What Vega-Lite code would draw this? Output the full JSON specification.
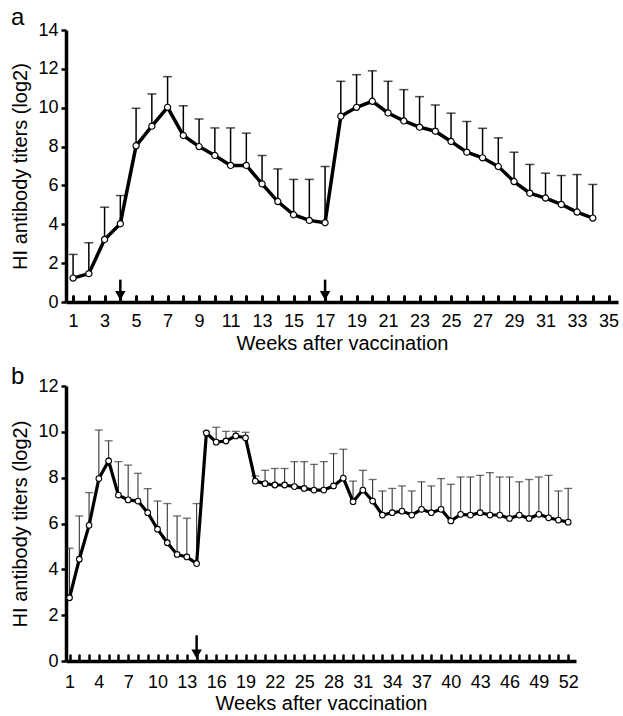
{
  "$schema": "https://vega.github.io/schema/vega-lite/v6.json",
  "padding": {"left": 10, "top": 6, "right": 0, "bottom": 0},
  "spacing": 12,
  "config": {
    "font": "Liberation Sans",
    "view": {"stroke": null},
    "axis": {
      "grid": false,
      "ticks": true,
      "domainColor": "black",
      "domainWidth": 3.5,
      "tickColor": "black",
      "tickWidth": 2.5,
      "tickOpacity": 1,
      "labelColor": "black",
      "titleColor": "black",
      "labelFontSize": 18,
      "titleFontSize": 20,
      "titleFontWeight": "normal",
      "labelFont": "Liberation Sans",
      "titleFont": "Liberation Sans",
      "labelOverlap": false
    },
    "title": {"font": "Liberation Sans", "fontWeight": "normal", "fontSize": 24, "color": "black", "anchor": "start", "frame": "bounds"}
  },
  "datasets": {
    "a": [
      {"week": 1, "mean": 1.23, "upper": 2.45},
      {"week": 2, "mean": 1.46, "upper": 3.05},
      {"week": 3, "mean": 3.22, "upper": 4.88},
      {"week": 4, "mean": 4.03, "upper": 5.48},
      {"week": 5, "mean": 8.04, "upper": 9.97},
      {"week": 6, "mean": 9.05, "upper": 10.71},
      {"week": 7, "mean": 10.02, "upper": 11.6},
      {"week": 8, "mean": 8.57, "upper": 10.1},
      {"week": 9, "mean": 8.0, "upper": 9.42},
      {"week": 10, "mean": 7.54, "upper": 8.96},
      {"week": 11, "mean": 7.03, "upper": 8.96},
      {"week": 12, "mean": 7.03, "upper": 8.69},
      {"week": 13, "mean": 6.08, "upper": 7.54},
      {"week": 14, "mean": 5.17, "upper": 6.85},
      {"week": 15, "mean": 4.49, "upper": 6.31},
      {"week": 16, "mean": 4.2, "upper": 6.31},
      {"week": 17, "mean": 4.08, "upper": 6.97},
      {"week": 18, "mean": 9.56, "upper": 11.36},
      {"week": 19, "mean": 10.02, "upper": 11.7},
      {"week": 20, "mean": 10.33, "upper": 11.9},
      {"week": 21, "mean": 9.73, "upper": 11.36},
      {"week": 22, "mean": 9.32, "upper": 10.93},
      {"week": 23, "mean": 9.0, "upper": 10.57},
      {"week": 24, "mean": 8.79, "upper": 10.14},
      {"week": 25, "mean": 8.26, "upper": 9.72},
      {"week": 26, "mean": 7.71, "upper": 9.29},
      {"week": 27, "mean": 7.42, "upper": 8.94},
      {"week": 28, "mean": 6.97, "upper": 8.45},
      {"week": 29, "mean": 6.2, "upper": 7.71},
      {"week": 30, "mean": 5.6, "upper": 7.08},
      {"week": 31, "mean": 5.35, "upper": 6.63},
      {"week": 32, "mean": 5.02, "upper": 6.51},
      {"week": 33, "mean": 4.63, "upper": 6.56},
      {"week": 34, "mean": 4.32, "upper": 6.05}
    ],
    "b": [
      {"week": 1, "mean": 2.76, "upper": 4.92},
      {"week": 2, "mean": 4.44, "upper": 6.33},
      {"week": 3, "mean": 5.92, "upper": 7.35},
      {"week": 4, "mean": 7.96, "upper": 10.08},
      {"week": 5, "mean": 8.73, "upper": 9.61},
      {"week": 6, "mean": 7.24, "upper": 8.7},
      {"week": 7, "mean": 7.03, "upper": 8.55},
      {"week": 8, "mean": 6.98, "upper": 8.19},
      {"week": 9, "mean": 6.47, "upper": 7.52},
      {"week": 10, "mean": 5.75, "upper": 6.98},
      {"week": 11, "mean": 5.16, "upper": 6.87},
      {"week": 12, "mean": 4.65, "upper": 6.33},
      {"week": 13, "mean": 4.54, "upper": 6.23},
      {"week": 14, "mean": 4.25, "upper": 6.87},
      {"week": 15, "mean": 9.95, "upper": 10.0},
      {"week": 16, "mean": 9.55, "upper": 10.2},
      {"week": 17, "mean": 9.6, "upper": 10.02},
      {"week": 18, "mean": 9.82, "upper": 10.02},
      {"week": 19, "mean": 9.74, "upper": 9.98},
      {"week": 20, "mean": 7.85, "upper": 8.07},
      {"week": 21, "mean": 7.74, "upper": 8.32},
      {"week": 22, "mean": 7.68, "upper": 8.4},
      {"week": 23, "mean": 7.68, "upper": 8.4},
      {"week": 24, "mean": 7.61, "upper": 8.7},
      {"week": 25, "mean": 7.53, "upper": 8.7},
      {"week": 26, "mean": 7.46, "upper": 8.58},
      {"week": 27, "mean": 7.46, "upper": 8.7},
      {"week": 28, "mean": 7.64, "upper": 9.05},
      {"week": 29, "mean": 7.98, "upper": 9.24},
      {"week": 30, "mean": 6.95, "upper": 7.85},
      {"week": 31, "mean": 7.46, "upper": 8.32},
      {"week": 32, "mean": 6.98, "upper": 7.92},
      {"week": 33, "mean": 6.37, "upper": 7.42},
      {"week": 34, "mean": 6.47, "upper": 7.53},
      {"week": 35, "mean": 6.54, "upper": 7.64},
      {"week": 36, "mean": 6.37, "upper": 7.42},
      {"week": 37, "mean": 6.62, "upper": 7.82},
      {"week": 38, "mean": 6.47, "upper": 7.64},
      {"week": 39, "mean": 6.62, "upper": 7.96},
      {"week": 40, "mean": 6.11, "upper": 7.71},
      {"week": 41, "mean": 6.4, "upper": 8.03},
      {"week": 42, "mean": 6.37, "upper": 8.03},
      {"week": 43, "mean": 6.47, "upper": 8.1},
      {"week": 44, "mean": 6.37, "upper": 8.22},
      {"week": 45, "mean": 6.37, "upper": 8.03},
      {"week": 46, "mean": 6.22, "upper": 8.03},
      {"week": 47, "mean": 6.37, "upper": 7.82},
      {"week": 48, "mean": 6.22, "upper": 7.92},
      {"week": 49, "mean": 6.4, "upper": 8.03},
      {"week": 50, "mean": 6.25, "upper": 8.1},
      {"week": 51, "mean": 6.15, "upper": 7.42},
      {"week": 52, "mean": 6.06, "upper": 7.53}
    ],
    "arrowsA": [
      {"week": 4, "top": 1.15, "bottom": 0.5, "head": 0.33},
      {"week": 17, "top": 1.15, "bottom": 0.5, "head": 0.33}
    ],
    "arrowsB": [
      {"week": 14, "top": 1.12, "bottom": 0.45, "head": 0.3}
    ]
  },
  "vconcat": [
    {
      "title": {"text": "a", "offset": -9},
      "width": 552,
      "height": 272,
      "layer": [
        {
          "data": {"name": "a"},
          "mark": {"type": "rule", "color": "black", "strokeWidth": 1.5},
          "encoding": {
            "x": {"field": "week", "type": "quantitative", "scale": {"domain": [0.55, 35.6], "nice": false, "zero": false},
              "axis": {"title": "Weeks after vaccination", "values": [1,2,3,4,5,6,7,8,9,10,11,12,13,14,15,16,17,18,19,20,21,22,23,24,25,26,27,28,29,30,31,32,33,34,35],
                "tickCount": 200, "format": "d", "labelExpr": "datum.value % 2 == 1 ? datum.label : ''", "tickSize": -6, "tickWidth": 3, "tickCap": "round", "labelPadding": 16, "titlePadding": 3, "labelFlush": false}},
            "y": {"field": "mean", "type": "quantitative", "scale": {"domain": [0, 14], "nice": false},
              "axis": {"title": "HI antibody titers (log2)", "values": [0,2,4,6,8,10,12,14], "tickCount": 50, "format": "d", "labelFlush": false, "tickSize": 5, "labelPadding": 3, "titlePadding": 7}},
            "y2": {"field": "upper"}
          }
        },
        {
          "data": {"name": "a"},
          "mark": {"type": "tick", "orient": "horizontal", "color": "black", "size": 9, "thickness": 1.5},
          "encoding": {
            "x": {"field": "week", "type": "quantitative"},
            "y": {"field": "upper", "type": "quantitative"}
          }
        },
        {
          "data": {"name": "a"},
          "mark": {"type": "line", "color": "black", "strokeWidth": 3.5},
          "encoding": {
            "x": {"field": "week", "type": "quantitative"},
            "y": {"field": "mean", "type": "quantitative"}
          }
        },
        {
          "data": {"name": "a"},
          "mark": {"type": "point", "filled": true, "fill": "white", "stroke": "black", "strokeWidth": 1.2, "size": 38, "opacity": 1},
          "encoding": {
            "x": {"field": "week", "type": "quantitative"},
            "y": {"field": "mean", "type": "quantitative"}
          }
        },
        {
          "data": {"name": "arrowsA"},
          "mark": {"type": "rule", "color": "black", "strokeWidth": 2.5},
          "encoding": {
            "x": {"field": "week", "type": "quantitative"},
            "y": {"field": "top", "type": "quantitative"},
            "y2": {"field": "bottom"}
          }
        },
        {
          "data": {"name": "arrowsA"},
          "mark": {"type": "point", "shape": "triangle-down", "filled": true, "color": "black", "size": 110, "opacity": 1},
          "encoding": {
            "x": {"field": "week", "type": "quantitative"},
            "y": {"field": "head", "type": "quantitative"}
          }
        }
      ]
    },
    {
      "title": {"text": "b", "offset": -12},
      "width": 510,
      "height": 275,
      "layer": [
        {
          "data": {"name": "b"},
          "mark": {"type": "rule", "color": "#333333", "strokeWidth": 1.1},
          "encoding": {
            "x": {"field": "week", "type": "quantitative", "scale": {"domain": [0.64, 52.8], "nice": false, "zero": false},
              "axis": {"title": "Weeks after vaccination", "values": [1,2,3,4,5,6,7,8,9,10,11,12,13,14,15,16,17,18,19,20,21,22,23,24,25,26,27,28,29,30,31,32,33,34,35,36,37,38,39,40,41,42,43,44,45,46,47,48,49,50,51,52],
                "tickCount": 200, "format": "d", "labelExpr": "(datum.value - 1) % 3 == 0 ? datum.label : ''", "tickSize": -6, "tickWidth": 2.5, "tickCap": "round", "labelPadding": 18, "titlePadding": 2, "labelFlush": false}},
            "y": {"field": "mean", "type": "quantitative", "scale": {"domain": [0, 12], "nice": false},
              "axis": {"title": "HI antibody titers (log2)", "values": [0,2,4,6,8,10,12], "tickCount": 50, "format": "d", "labelFlush": false, "tickSize": 5, "labelPadding": 3, "titlePadding": 7}},
            "y2": {"field": "upper"}
          }
        },
        {
          "data": {"name": "b"},
          "mark": {"type": "tick", "orient": "horizontal", "color": "#333333", "size": 8, "thickness": 1.3},
          "encoding": {
            "x": {"field": "week", "type": "quantitative"},
            "y": {"field": "upper", "type": "quantitative"}
          }
        },
        {
          "data": {"name": "b"},
          "mark": {"type": "line", "color": "black", "strokeWidth": 3.2},
          "encoding": {
            "x": {"field": "week", "type": "quantitative"},
            "y": {"field": "mean", "type": "quantitative"}
          }
        },
        {
          "data": {"name": "b"},
          "mark": {"type": "point", "filled": true, "fill": "white", "stroke": "black", "strokeWidth": 1.1, "size": 32, "opacity": 1},
          "encoding": {
            "x": {"field": "week", "type": "quantitative"},
            "y": {"field": "mean", "type": "quantitative"}
          }
        },
        {
          "data": {"name": "arrowsB"},
          "mark": {"type": "rule", "color": "black", "strokeWidth": 2.5},
          "encoding": {
            "x": {"field": "week", "type": "quantitative"},
            "y": {"field": "top", "type": "quantitative"},
            "y2": {"field": "bottom"}
          }
        },
        {
          "data": {"name": "arrowsB"},
          "mark": {"type": "point", "shape": "triangle-down", "filled": true, "color": "black", "size": 110, "opacity": 1},
          "encoding": {
            "x": {"field": "week", "type": "quantitative"},
            "y": {"field": "head", "type": "quantitative"}
          }
        }
      ]
    }
  ]
}
